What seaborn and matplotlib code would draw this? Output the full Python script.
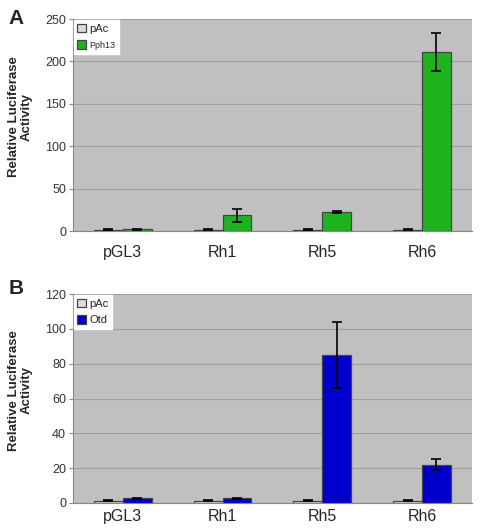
import pandas as pd
import matplotlib
matplotlib.use("Agg")
import matplotlib.pyplot as plt
import seaborn as sns

# data
constructs = ["pGL3", "Rh1", "Rh5", "Rh6"]

a_pac = [1.5, 1.5, 1.5, 1.5]
a_pac_err = [0.5, 0.5, 0.5, 0.5]
a_pph13 = [2.0, 18.5, 22.5, 211.5]
a_pph13_err = [0.8, 7.5, 1.5, 22.5]

b_pac = [1.2, 1.2, 1.2, 1.2]
b_pac_err = [0.3, 0.3, 0.3, 0.3]
b_otd = [2.6, 2.6, 85.0, 22.0]
b_otd_err = [0.4, 0.5, 19.0, 3.0]

sns.set_style("white")
plt.rcParams["font.family"] = ["Liberation Sans", "DejaVu Sans"]

fig = plt.figure(figsize=(4.8, 5.3), dpi=100)
ax_a = fig.add_axes([0.152, 0.564, 0.831, 0.400])
ax_b = fig.add_axes([0.152, 0.051, 0.831, 0.394])


def panel(ax, name, vals, errs, color, ymax, step, letter, xpad, letter_y):
    df = pd.DataFrame({
        "construct": constructs * 2,
        "value": vals[0] + vals[1],
        "err": errs[0] + errs[1],
        "group": ["pAc"] * 4 + [name] * 4,
    })
    sns.barplot(data=df, x="construct", y="value", hue="group",
                palette=["#dcdcdc", color], width=0.58, errorbar=None,
                edgecolor="#444444", linewidth=0.9, saturation=1, ax=ax, zorder=3)
    for cont, e in zip(ax.containers, errs):
        xs = [p.get_x() + p.get_width() / 2 for p in cont]
        ys = [p.get_height() for p in cont]
        ax.errorbar(xs, ys, yerr=e, fmt="none", ecolor="black",
                    elinewidth=1.2, capsize=3.5, capthick=1.2, zorder=4)
    ax.set_facecolor("#c0c0c0")
    ax.set_ylim(0, ymax)
    ax.set_xlim(-0.5, 3.5)
    ax.set_yticks(range(0, ymax + 1, step))
    ax.grid(axis="y", color="#a0a0a0", linewidth=0.8, zorder=0)
    ax.set_axisbelow(True)
    for s in ["top", "right"]:
        ax.spines[s].set_visible(False)
    ax.spines["left"].set_color("#888888")
    ax.spines["bottom"].set_color("#888888")
    ax.set_xticks([0, 1, 2, 3])
    ax.set_xticklabels(constructs, fontsize=11.5)
    ax.set_xticks([0.5, 1.5, 2.5, 3.5], minor=True)
    ax.tick_params(axis="x", which="major", length=0, pad=xpad)
    ax.tick_params(axis="x", which="minor", length=4, color="#d8d8d8", direction="out")
    ax.tick_params(axis="y", length=3, color="#888888", labelsize=9,
                   labelcolor="#333333", left=True, pad=2)
    ax.set_xlabel("")
    ax.set_ylabel("Relative Luciferase\nActivity", fontsize=9.5, fontweight="bold",
                  linespacing=1.1)
    ax.yaxis.set_label_coords(-0.10, 0.54)
    leg = ax.legend(loc="upper left", fontsize=8, frameon=True, fancybox=False,
                    handlelength=0.8, handleheight=0.8, handletextpad=0.3,
                    borderaxespad=0.1, borderpad=0.3, labelspacing=0.6)
    leg.get_frame().set_facecolor("white")
    leg.get_frame().set_edgecolor("white")
    leg.get_frame().set_alpha(1)
    leg.texts[1].set_fontsize(6.5 if name == "Pph13" else 8)
    fig.text(0.017, letter_y, letter, fontsize=15, fontweight="bold", va="center")


panel(ax_a, "Pph13", [a_pac, a_pph13], [a_pac_err, a_pph13_err], "#1fb21f",
      250, 50, "A", 10, 0.966)
panel(ax_b, "Otd", [b_pac, b_otd], [b_pac_err, b_otd_err], "#0000cc",
      120, 20, "B", 4, 0.455)

fig.savefig("out.png", dpi=100)
